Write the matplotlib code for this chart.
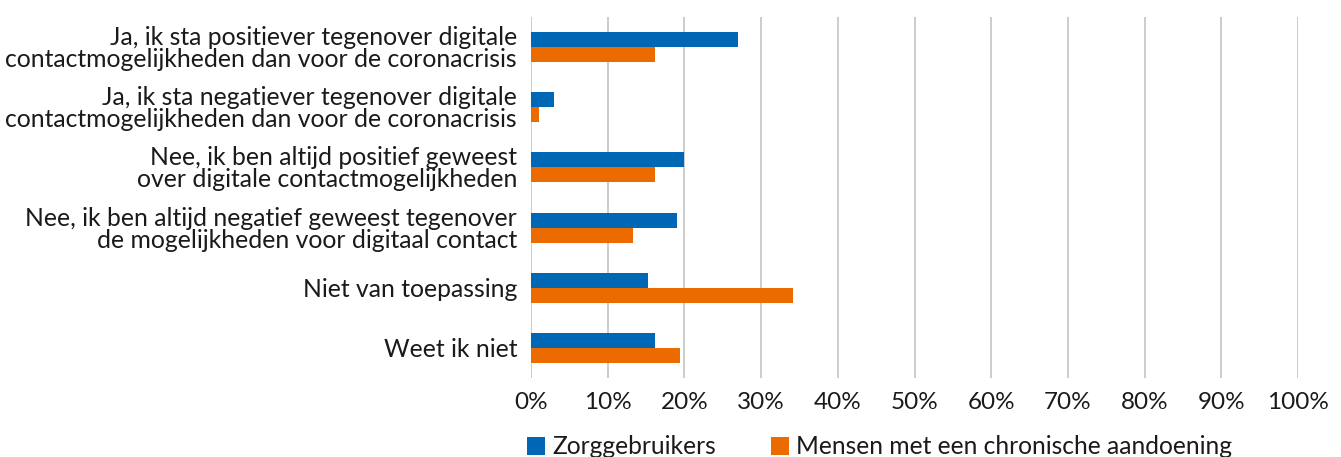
import matplotlib
matplotlib.use("Agg")
import matplotlib.pyplot as plt
import numpy as np
from matplotlib.ticker import FuncFormatter, MultipleLocator

categories = [
    "Ja, ik sta positiever tegenover digitale\ncontactmogelijkheden dan voor de coronacrisis",
    "Ja, ik sta negatiever tegenover digitale\ncontactmogelijkheden dan voor de coronacrisis",
    "Nee, ik ben altijd positief geweest\nover digitale contactmogelijkheden",
    "Nee, ik ben altijd negatief geweest tegenover\nde mogelijkheden voor digitaal contact",
    "Niet van toepassing",
    "Weet ik niet",
]
zorggebruikers = [27, 3, 20, 19, 15.2, 16.2]
chronisch = [16.2, 1.1, 16.2, 13.3, 34.2, 19.4]
series_names = ["Zorggebruikers", "Mensen met een chronische aandoening"]
colors = ["#0067B4", "#EC6B00"]

plt.rcParams['font.family'] = ['Lato', 'DejaVu Sans']

fig = plt.figure(figsize=(13.41, 4.57), dpi=100)
ax = fig.add_axes([531/1341, 1-378/457, (1298-531)/1341, (378-17)/457])

y = np.arange(len(categories))
h = 0.25
ax.barh(y - h/2, zorggebruikers, height=h, color=colors[0], label=series_names[0], zorder=3)
ax.barh(y + h/2, chronisch, height=h, color=colors[1], label=series_names[1], zorder=3)

ax.set_ylim(len(categories) - 0.5, -0.5)
ax.set_xlim(0, 100)
ax.xaxis.set_major_locator(MultipleLocator(10))
ax.xaxis.set_major_formatter(FuncFormatter(lambda v, p: f"{int(round(v))}%"))
ax.grid(axis='x', color='#c8c8c8', linewidth=1.3, zorder=0)
ax.set_yticks(y)
ax.set_yticklabels(categories, fontsize=17.8, color='#1a1a1a', linespacing=0.95)
for lab in ax.get_yticklabels():
    lab.set_horizontalalignment('right')
ax.tick_params(axis='y', length=0, pad=10)
ax.tick_params(axis='x', length=0, pad=10, labelsize=17.5, labelcolor='#1a1a1a')
for s in ax.spines.values():
    s.set_visible(False)

leg = fig.legend(loc='center', bbox_to_anchor=(0.656, 1-447/457), ncol=2, frameon=False,
                 fontsize=17.7, handlelength=0.75, handleheight=0.75, handletextpad=0.3,
                 columnspacing=2.2, labelcolor='#1a1a1a')

fig.savefig("out.png", dpi=100)
